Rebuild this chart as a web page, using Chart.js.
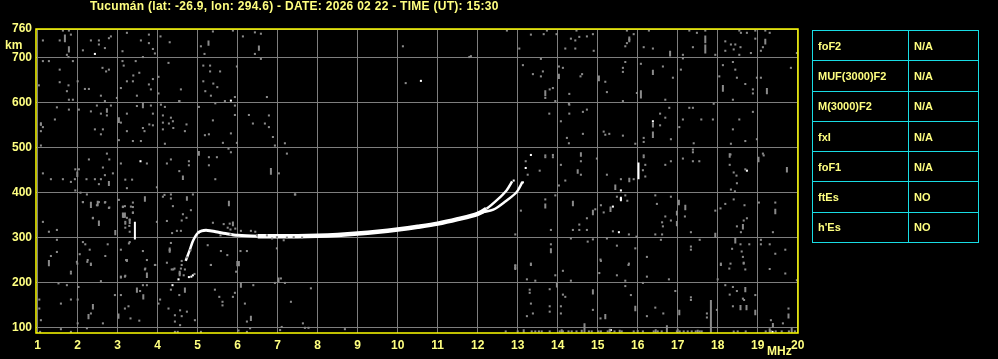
<!DOCTYPE html>
<html>
<head>
<meta charset="utf-8">
<script src="https://cdn.jsdelivr.net/npm/chart.js@4.4.1/dist/chart.umd.min.js"></script>
<style>
  body { margin: 0; background: #000; overflow: hidden; }
  #wrap { position: relative; width: 998px; height: 359px; }
  #title { position: absolute; left: 90px; top: -1px; color: #ffff80; font: bold 12px "Liberation Sans", Arial, sans-serif; letter-spacing: 0.28px; white-space: nowrap; }
  #params { position: absolute; left: 812px; top: 30px; border-collapse: collapse; }
  #params td { border: 1px solid #18dce4; height: 29.3px; padding: 0 0 0 5px; color: #ffff80; font: bold 11px "Liberation Sans", Arial, sans-serif; }
  #params td:first-child { width: 90px; }
  #params td:last-child { width: 64px; }
</style>
</head>
<body>
<div id="wrap">
  <canvas id="iono" width="998" height="359"></canvas>
  <div id="title">Tucumán (lat: -26.9, lon: 294.6) - DATE: 2026 02 22 - TIME (UT): 15:30</div>
  <table id="params"></table>
</div>
<script>
const freqTicks = [1,2,3,4,5,6,7,8,9,10,11,12,13,14,15,16,17,18,19,20]
const heightTicks = [100,200,300,400,500,600,700]

const paramNames = ['foF2','MUF(3000)F2','M(3000)F2','fxI','foF1','ftEs',"h'Es"]
const paramValues = ['N/A','N/A','N/A','N/A','N/A','NO','NO']

// main F trace (MHz, km)
const traceO = [[4.70,248],[4.80,272],[4.87,290],[4.93,301],[5.00,310],[5.10,315],[5.25,316],[5.45,313],[5.70,309],[6.00,305],[6.50,303],[7.00,303],[7.50,303],[8.00,304],[8.50,306],[9.00,309],[9.50,313],[10.00,318],[10.50,324],[11.00,331],[11.50,341],[12.00,353],[12.22,364],[12.50,385],[12.72,405],[12.86,425]]
const traceX = [[11.80,347],[12.10,356],[12.39,362],[12.70,381],[12.97,401],[13.12,424]]

// white echoes
const whiteDots = [[2.43,709],[10.58,649],[5.83,605],[3.57,470],[15.33,94],[19.37,90],[13.33,484],[16.38,559],[18.73,449],[15.58,405],[15.58,386],[15.38,369],[15.53,312],[4.52,207],[4.37,194],[4.78,212],[4.84,213],[4.88,216],[13.2,455],[12.9,427],[13.13,423]]
const whiteBars = [[3.43,296,335],[16.02,430,467],[15.58,381,391]]

// grey noise, low frequencies
const noiseLow = [
  [1.63,761],[1.78,761],[1.83,752],[1.13,739],[1.55,739],[1.73,707],[1.77,702],[1.13,693],[1.28,693],[1.88,693],[1.55,674],[1.55,646],[1.77,639],[1.03,639],[1.73,626],[1.78,607],[1.88,607],[2.0,648],[2.13,717],[2.33,739],[2.53,739],[2.53,730],[2.68,722],[2.78,744],[2.83,748],[2.62,678],[2.71,670],[2.78,674],[2.18,631],[2.28,631],[2.58,616],[2.68,604],[2.98,611],[3.23,756],[3.58,739],[3.78,752],[3.78,733],[3.12,715],[3.88,720],[3.93,710],[3.63,702],[3.12,693],[3.45,693],[3.15,683],[3.39,661],[3.54,667],[3.23,648],[3.38,648],[3.88,653],[4.02,658],[3.08,633],[3.78,641],[3.48,616],[4.07,748],[4.3,735],[4.27,689],[4.58,630],[4.54,604],[4.02,621],[3.83,630],[5.38,759],[5.88,761],[5.08,726],[5.17,709],[6.13,748],[6.43,757],[6.58,754],[6.43,709],[6.58,698],[5.14,683],[5.31,683],[5.31,670],[5.56,670],[5.98,681],[5.14,648],[5.39,643],[5.49,635],[5.19,626],[5.33,616],[5.93,613],[6.73,613],
  [1.48,590],[1.78,585],[1.08,552],[1.13,546],[1.08,537],[1.43,563],[1.08,505],[2.03,585],[2.33,581],[2.48,594],[2.58,576],[2.73,572],[2.43,541],[2.63,541],[2.58,530],[2.83,594],[3.08,556],[3.23,576],[3.23,537],[3.38,515],[3.48,593],[3.58,515],[3.03,517],[3.63,544],[3.67,537],[3.79,552],[3.88,550],[3.88,576],[3.83,594],[4.08,596],[4.18,591],[4.13,572],[4.13,556],[4.13,541],[4.28,554],[4.33,567],[4.38,559],[4.39,544],[4.18,509],[4.54,604],[4.72,552],[4.68,537],[5.03,591],[5.18,528],[5.28,530],[5.38,561],[5.44,599],[5.63,511],[5.68,604],[5.83,532],[5.93,573],[5.93,594],[5.77,498],[5.83,490],[5.98,511],[6.28,573],[6.38,554],[6.78,572],[6.68,554],[6.78,546],[6.88,524],[6.93,505],[7.18,510],[7.23,487],
  [2.73,487],[2.28,474],[2.79,474],[3.08,465],[3.73,465],[4.33,474],[4.23,465],[4.78,470],[4.78,461],[5.28,479],[5.48,479],[5.28,461],[2.63,456],[2.88,443],[1.94,452],[2.03,452],[1.13,443],[2.68,439],[1.83,424],[2.53,419],[4.54,448],[7.03,443],[3.23,410],[3.98,412],[1.94,405],[2.07,400],[2.23,396],[2.13,379],[2.68,378],[2.78,366],[3.03,384],[3.18,370],[3.38,378],[3.33,369],[3.38,356],[3.23,344],[4.17,395],[4.33,396],[4.33,387],[4.13,391],[4.38,370],[4.88,396],[4.83,361],[4.63,352],[7.43,396],[2.38,344],[7.44,396],
  [1.33,430],[1.63,430],[1.93,430],[2.22,430],[2.43,430],[2.58,430],[5.44,430],[3.19,429],[3.36,429],
  [4.6,338],[4.72,344],[4.58,315],[4.48,315],[4.36,310],[4.23,337],[3.98,335],[3.19,331],[3.3,340],[3.38,355],[3.15,346],[3.13,368],[3.38,368],[5.8,331],[5.38,333],[5.65,330],[5.75,322],[5.82,318],[5.94,320],[6.08,315],[6.33,315],[6.44,313],[6.48,305],[6.73,305],[6.86,298],[6.98,301],[7.23,300],[7.4,301],[7.61,300],[5.57,305],[5.82,307],
  [3.19,322],[3.3,313],[3.28,287],[3.23,250],[3.63,270],[3.73,250],[3.94,239],[3.69,231],[4.33,288],[4.3,272],[4.42,231],[4.58,231],[4.6,248],[4.55,220],[4.65,216],[4.82,272],[4.73,256],[5.25,283],[5.33,239],[5.58,270],[5.74,261],[6.23,270],[6.07,270],[6.98,276],[7.15,294],
  [1.13,335],[1.28,313],[1.48,317],[1.48,295],[1.33,259],[1.48,268],[1.83,224],[2.13,379],[2.53,379],[2.48,372],[2.69,379],[2.79,367],[2.38,343],[2.13,290],[2.19,285],[2.05,263],[2.3,273],[2.25,250],[2.33,242],[2.69,259],[2.75,285],[1.98,246],[3.13,369],[3.19,335],[3.29,326],[3.08,273],[3.21,250],[3.08,211],[3.19,215],[3.3,290],
  [1.99,242],[2.24,246],[2.33,239],[1.83,220],[2.58,203],[1.52,198],[1.73,194],[2.02,190],[1.58,153],[2.33,131],[2.63,109],[2.0,109],[1.08,116],[1.04,142],[1.58,96],[1.83,90],[1.06,90],[2.23,98],[1.83,162],[2.0,162],[1.04,162],[3.23,248],[3.08,213],[3.18,213],[3.68,229],[3.93,239],[4.23,244],[4.35,229],[4.39,229],[4.6,239],[4.68,229],[2.93,172],[3.08,172],[3.63,194],[3.73,194],[3.56,181],[3.27,147],[3.18,142],[3.32,120],[3.54,115],[4.02,153],[4.06,162],[4.27,142],[4.33,184],[4.54,172],[4.56,138],[4.73,135],[4.43,127],[4.6,125],[4.43,113],[4.56,105],[4.93,116],[5.08,90],[4.43,90],[4.5,90],[4.92,219],[5.33,239],[5.43,184],[5.54,168],[5.62,157],[5.62,149],[5.88,168],[5.93,177],[5.96,224],[6.18,153],[6.23,113],[6.39,194],[6.02,93],[6.23,90],[6.31,98],[6.93,199],[7.18,199],[7.08,209],[7.33,157],[7.83,187],[7.63,109],[7.68,99],[7.77,99],[7.1,101],[7.06,94],[8.68,96],
  [10.13,726],[10.2,644],[11.79,702],[11.83,704],[12.73,761]
]

// grey noise, high frequencies
const noiseHigh = [
  [13.33,752],[13.65,753],[13.73,761],[13.97,753],[13.04,721],[14.33,743],[14.44,739],[14.54,747],[14.73,748],[14.88,753],[14.19,721],[14.44,721],[14.9,716],[14.47,761],[15.73,761],[15.9,753],[15.79,741],[15.73,733],[15.69,726],[16.15,724],[16.38,721],[16.28,761],[17.13,707],[17.13,699],[17.29,761],[17.38,724],[17.48,756],[17.94,707],[17.69,761],[18.19,737],[18.33,730],[18.44,730],[18.54,761],[18.58,756],[18.73,756],[18.94,761],[18.94,743],[19.13,724],[19.08,716],[19.3,756],[19.19,761],[18.57,724],[18.4,719],[18.19,716],[18.54,707],[18.83,711],[19.98,711],
  [13.13,684],[13.38,664],[13.63,670],[13.58,659],[13.8,630],[13.88,633],[13.69,611],[13.94,604],[13.58,698],[14.03,681],[14.13,678],[14.61,664],[14.57,659],[14.29,620],[14.28,598],[15.19,647],[15.23,624],[15.69,691],[15.63,678],[15.63,669],[15.63,604],[15.98,622],[16.08,687],[16.63,681],[16.88,656],[16.69,607],[17.08,674],[18.04,659],[18.13,684],[18.38,691],[18.44,674],[18.48,656],[18.69,642],[18.88,630],[18.88,621],[18.98,656],[19.08,656],[18.38,607],[19.83,678],
  [13.79,576],[14.08,559],[14.29,576],[14.29,596],[14.63,580],[14.73,585],[14.63,531],[14.23,522],[14.28,510],[15.15,536],[15.19,529],[15.29,531],[15.63,527],[15.94,509],[16.15,522],[16.15,513],[16.56,576],[16.69,567],[16.56,550],[16.79,589],[16.83,519],[17.04,546],[17.13,563],[17.29,589],[17.38,589],[17.59,563],[17.88,563],[17.9,598],[18.54,563],[18.38,541],[18.88,580],[18.69,515],[18.98,519],[17.4,510],[18.33,509],
  [13.69,483],[13.88,484],[18.32,485],[19.13,487],[17.38,496],[16.15,483],
  [13.69,479],[13.88,479],[14.58,470],[14.08,462],[13.55,449],[14.58,440],[14.19,427],[14.03,416],[14.98,476],[15.23,440],[15.58,430],[15.9,430],[16.15,479],[16.19,462],[16.13,450],[16.19,436],[16.69,462],[16.83,470],[17.13,476],[17.38,470],[17.54,470],[17.38,490],[18.3,462],[18.47,438],[18.4,445],[18.48,421],[18.33,407],[18.43,403],[18.69,452],[19.15,483],
  [15.48,391],[15.69,394],[15.74,382],[15.15,356],[14.94,363],[14.73,343],[13.94,394],[13.69,385],[13.08,360],[15.08,372],[15.38,314],[15.78,307],[14.54,329],[14.38,317],[14.54,317],[14.73,317],[13.83,317],[12.94,307],[16.44,394],[16.48,375],[16.83,391],[16.69,347],[17.18,347],[16.61,334],[16.63,325],[16.83,338],[17.33,312],[17.94,360],[18.07,365],[18.19,375],[18.4,385],[18.67,372],[18.73,343],[18.65,338],[18.48,325],[18.58,312],[19.03,378],[19.44,378],[19.38,312],[16.44,307],[16.61,307],[15.97,302],[16.58,295],[13.2,470],[13.25,440],
  [13.83,285],[14.88,296],[14.33,298],[14.75,291],[15.23,298],[15.48,282],[15.94,276],[16.23,257],[17.33,280],[17.33,273],[17.55,295],[18.57,285],[18.36,275],[18.6,269],[18.63,257],[18.79,285],[19.08,295],[19.08,285],[19.3,285],[19.69,273],[19.44,264],[18.32,242],[18.65,242],[18.08,242],[15.07,251],[12.94,238],[13.33,242],[15.78,242],
  [12.94,232],[13.33,239],[13.94,216],[14.13,226],[14.33,204],[13.23,207],[13.44,204],[13.3,184],[13.3,177],[13.8,185],[13.33,153],[13.8,147],[13.8,135],[13.38,131],[13.23,125],[14.08,147],[14.08,131],[14.13,173],[14.19,168],[14.88,139],[15.08,248],[15.04,221],[15.48,216],[15.69,204],[15.69,192],[15.77,239],[15.83,172],[15.07,120],[16.23,213],[16.13,199],[16.44,144],[16.64,131],[16.23,125],[16.78,207],[16.94,181],[17.33,167],[17.33,161],[17.73,131],[17.73,122],[17.98,139],[18.08,239],[18.29,231],[18.65,244],[18.69,229],[18.19,194],[18.38,190],[18.48,181],[18.3,173],[18.63,164],[18.94,172],[18.38,147],[18.0,207],[19.3,230],[19.69,220],[19.77,142],[19.33,116],[19.63,109],[19.98,205],[18.66,161]
]

// grey floor clutter near the lower edge
const noiseFloor = [12.7,13.0,13.35,13.44,13.53,13.6,13.8,14.05,14.13,14.27,14.35,14.47,14.78,14.85,15.02,15.08,15.25,15.42,15.6,15.9,16.13,16.4,16.5,16.6,16.98,17.05,17.15,17.25,17.35,17.45,17.55,17.6,18.5,18.7,19.2,19.33,19.45,19.6,19.78,19.93]

// grey vertical streaks [MHz, from km, to km]
const greyBars = [[17.83,88,161],[14.67,88,109],[16.73,88,105],[19.77,120,131],[19.38,100,110],[1.68,735,752],[1.78,712,726],[6.53,716,728],[5.27,727,739],[16.08,610,628],[18.13,625,640],[19.23,619,633],[17.69,733,750],[17.69,710,730],[15.03,648,661],[3.03,555,568],[16.38,522,536],[16.38,545,556],[16.38,662,674],[3.63,588,600],[16.81,703,716],[19.19,730,743],[15.79,735,748],[14.03,653,665],[13.69,615,628],[5.03,482,493],[4.73,382,392],[6.83,440,455],[4.63,428,438],[2.33,366,378],[2.5,370,382],[3.68,380,392],[3.18,344,356],[5.78,370,382],[2.78,415,426],[1.99,435,447],[2.73,578,588],[1.08,549,557],[16.98,325,337],[17.03,372,384],[17.19,361,373],[16.98,349,360],[18.63,318,330],[19.44,352,364],[17.94,300,311],[18.44,287,299],[14.58,480,490],[14.5,442,452],[15.79,423,433],[15.44,406,418],[14.38,370,382],[15.32,357,369],[14.88,350,362],[13.69,365,376],[13.83,265,276],[18.3,478,488],[19.02,468,480],[19.73,445,457],[13.98,189,200],[14.88,173,185],[15.94,136,148],[15.19,118,130],[17.04,127,139],[18.69,178,190],[18.57,138,150],[18.72,138,150],[18.94,127,139],[12.94,228,240],[1.28,236,246],[2.38,140,152],[2.27,118,130],[3.48,177,189],[3.64,162,174],[3.73,210,222],[4.68,177,189],[3.02,119,131],[5.99,236,248],[6.08,188,200],[6.33,114,126],[7.02,199,211],[3.3,330,342],[3.13,344,356],[2.94,305,317],[2.53,326,338],[2.33,368,380],[1.28,238,250],[3.73,210,222],[6.03,236,248],[5.88,325,336],[4.3,266,278],[4.55,214,226],[13.15,88,96],[14.1,88,96],[14.6,88,95],[15.3,88,97],[15.55,88,95],[16.0,88,94],[16.45,88,96],[17.0,88,97],[17.5,88,95],[18.4,88,93],[19.3,88,98],[19.85,88,100]]

const asPoints = list => list.map(([x, y]) => ({x, y}))
const asBars = list => list.flatMap(([x, y0, y1]) => [{x, y: y0}, {x, y: y1}, {x, y: null}])

const yellow = '#ffff80'
const grey = '#8a8a8a'

// band is thin on the rise and the split, thicker where both traces overlap
function traceWidth(c) {
  const f = c.p0.parsed.x
  if (f < 5.0 || f > 12.1) return 2.5
  if (f < 6.3) return 3
  return 4.5
}

const framePlugin = {
  id: 'frame',
  afterDraw(chart) {
    const {ctx, chartArea: a} = chart
    ctx.save()
    ctx.strokeStyle = '#ffff00'
    ctx.lineWidth = 1.5
    ctx.strokeRect(a.left, a.top, a.right - a.left, a.bottom - a.top)
    ctx.fillStyle = yellow
    ctx.font = 'bold 12px "Liberation Sans", Arial, sans-serif'
    ctx.textBaseline = 'middle'
    ctx.textAlign = 'left'
    ctx.fillText('km', 5, 46)
    ctx.fillText('MHz', 767, 352)
    ctx.restore()
  }
}

new Chart(document.getElementById('iono'), {
  type: 'scatter',
  data: {
    datasets: [
      {
        data: asPoints(noiseLow.concat(noiseHigh, noiseFloor.map(f => [f, 91]))),
        pointStyle: 'rect', pointRadius: 1.45, pointBorderWidth: 0,
        backgroundColor: grey, borderColor: grey
      },
      {
        data: asBars(greyBars), showLine: true, pointRadius: 0,
        borderColor: grey, borderWidth: 2, borderCapStyle: 'butt', spanGaps: false
      },
      {
        data: asPoints(traceX), showLine: true, pointRadius: 0,
        borderColor: '#fff', borderWidth: 2.5, tension: 0.3
      },
      {
        data: asPoints(traceO), showLine: true, pointRadius: 0,
        borderColor: '#fff', borderWidth: 4.5, tension: 0.3,
        segment: { borderWidth: traceWidth }
      },
      {
        data: asBars(whiteBars), showLine: true, pointRadius: 0,
        borderColor: '#fff', borderWidth: 2, borderCapStyle: 'butt', spanGaps: false
      },
      {
        data: asPoints(whiteDots),
        pointStyle: 'rect', pointRadius: 1.45, pointBorderWidth: 0,
        backgroundColor: '#fff', borderColor: '#fff'
      }
    ]
  },
  options: {
    responsive: false,
    animation: false,
    devicePixelRatio: 1,
    layout: { padding: { top: 29, right: 200, left: 0, bottom: 0 } },
    plugins: { legend: { display: false }, tooltip: { enabled: false } },
    scales: {
      x: {
        type: 'linear', min: 0.9575, max: 20.0075,
        afterBuildTicks: s => { s.ticks = freqTicks.map(v => ({value: v})) },
        afterFit: s => { s.height = 26 },
        grid: { color: '#7e7e7e', lineWidth: 1, drawTicks: false },
        border: { display: false },
        ticks: { color: yellow, font: { family: '"Liberation Sans", Arial, sans-serif', size: 12, weight: 'bold' }, padding: 5, maxRotation: 0, autoSkip: false }
      },
      y: {
        type: 'linear', min: 87.5, max: 764.5,
        afterBuildTicks: s => { s.ticks = heightTicks.concat([764.5]).map(v => ({value: v})) },
        afterFit: s => { s.width = 36 },
        grid: { color: '#7e7e7e', lineWidth: 1, drawTicks: false },
        border: { display: false },
        ticks: {
          color: yellow, font: { family: '"Liberation Sans", Arial, sans-serif', size: 12, weight: 'bold' }, padding: 4, autoSkip: false,
          callback: v => v > 750 ? '760' : String(v)
        }
      }
    }
  },
  plugins: [framePlugin]
})

const table = document.getElementById('params')
paramNames.forEach((name, i) => {
  const row = table.insertRow()
  row.insertCell().textContent = name
  row.insertCell().textContent = paramValues[i]
})
</script>
</body>
</html>
